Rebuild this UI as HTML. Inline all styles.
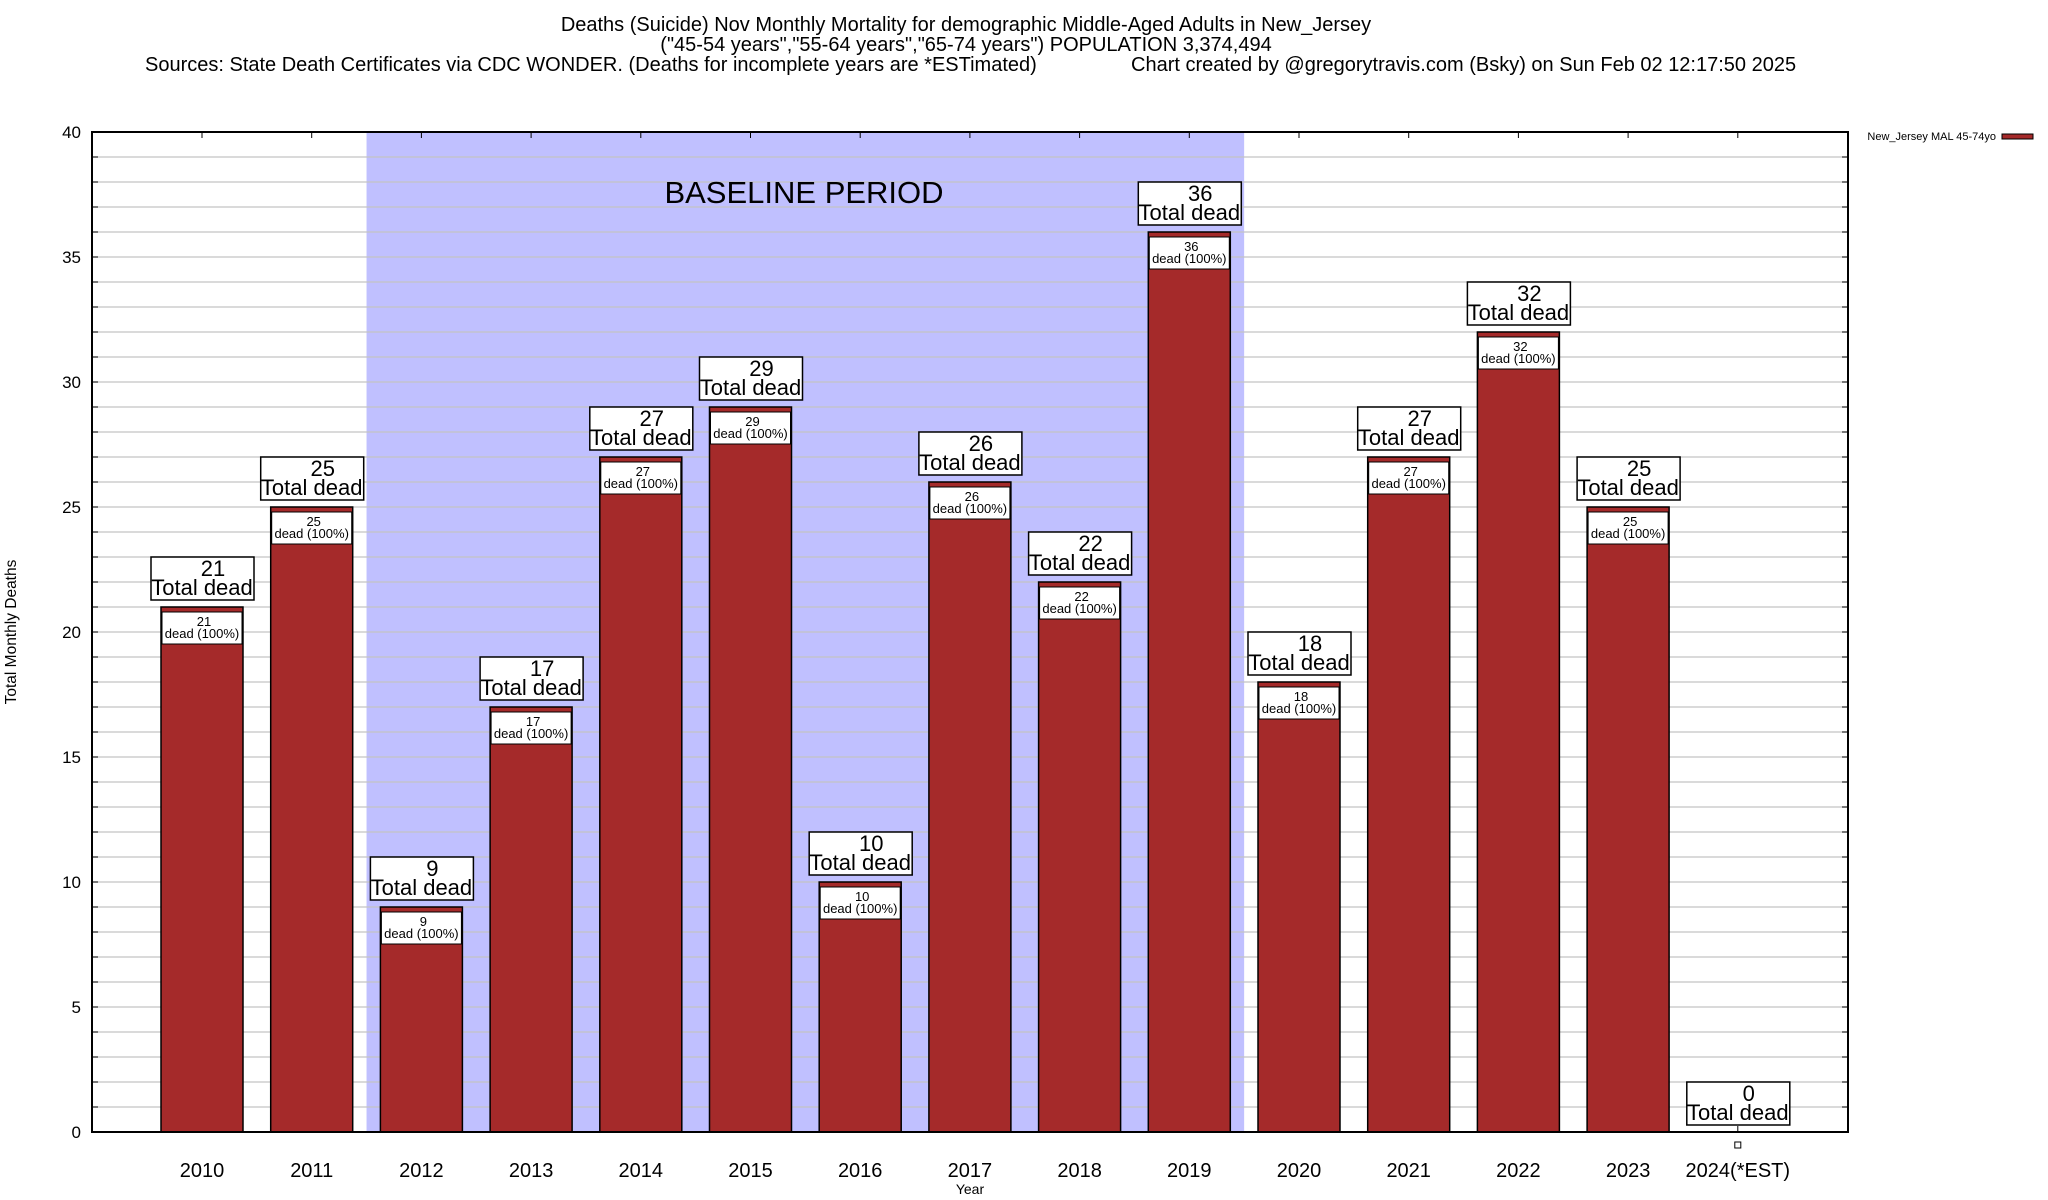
<!DOCTYPE html>
<html><head><meta charset="utf-8"><style>
html,body{margin:0;padding:0;background:#fff;}
svg{display:block;font-family:"Liberation Sans",Arial,sans-serif;}
</style></head><body>
<svg id="chart" width="2048" height="1200" viewBox="0 0 2048 1200">
<g font-size="20" text-anchor="middle">
<text x="966" y="31">Deaths (Suicide) Nov Monthly Mortality for demographic Middle-Aged Adults in New_Jersey</text>
<text x="966" y="51">("45-54 years","55-64 years","65-74 years") POPULATION 3,374,494</text>
<text x="145" y="71" text-anchor="start">Sources: State Death Certificates via CDC WONDER. (Deaths for incomplete years are *ESTimated)</text>
<text x="1131" y="71" text-anchor="start">Chart created by @gregorytravis.com (Bsky) on Sun Feb 02 12:17:50 2025</text>
</g>
<g id="plot"></g>
<text x="16" y="632" font-size="15.5" text-anchor="middle" transform="rotate(-90 16 632)">Total Monthly Deaths</text>
<text x="970" y="1194" font-size="14" text-anchor="middle">Year</text>
<g>
<text x="1996" y="140" font-size="11" text-anchor="end">New_Jersey MAL 45-74yo</text>
<rect x="2002" y="134" width="31" height="5" fill="#a52a2a" stroke="#000" stroke-width="1"/>
</g>
</svg>
<script>
const categories = ["2010","2011","2012","2013","2014","2015","2016","2017","2018","2019","2020","2021","2022","2023","2024(*EST)"];
const values = [21,25,9,17,27,29,10,26,22,36,18,27,32,25,0];
const yTicks = [0,5,10,15,20,25,30,35,40];
const baselineStart = 2, baselineEnd = 9;

const L=92,R=1848,T=132,B=1132,yMax=40;
const step=109.7, x0=202, bw=82;
const xC=i=>x0+i*step;
const yS=v=>B-(v/yMax)*(B-T);
const NS="http://www.w3.org/2000/svg";
const plot=document.getElementById('plot');
function mk(tag,attrs,parent,text){const e=document.createElementNS(NS,tag);for(const k in attrs)e.setAttribute(k,attrs[k]);if(text!==undefined)e.textContent=text;(parent||plot).appendChild(e);return e;}

const shade=mk('rect',{x:xC(baselineStart)-step/2,y:T,width:(baselineEnd-baselineStart+1)*step,height:B-T,fill:'#c0c0ff'});


for(let v=1;v<yMax;v++){
  const g=mk('line',{x1:L,x2:R,y1:yS(v),y2:yS(v),stroke:'#c4c4c4','stroke-width':1.2});
  
  
  mk('line',{x1:L,x2:L+6,y1:yS(v),y2:yS(v),stroke:'#000'});
  mk('line',{x1:R-6,x2:R,y1:yS(v),y2:yS(v),stroke:'#000'});
}
const bt=mk('text',{x:804,y:203,'font-size':31,'text-anchor':'middle'},plot,'BASELINE PERIOD');


yTicks.forEach(v=>{
  const t=mk('text',{x:81,y:yS(v)+6,'font-size':17,'text-anchor':'end'},plot,String(v));
  
  
});
categories.forEach((c,i)=>{
  const v=values[i], cx=xC(i), top=yS(v);
  mk('line',{x1:cx,x2:cx,y1:T,y2:T+6,stroke:'#000'});
  mk('line',{x1:cx,x2:cx,y1:B,y2:B-6,stroke:'#000'});
  if(v>0){
    const r=mk('rect',{x:cx-bw/2,y:top,width:bw,height:B-top,fill:'#a52a2a',stroke:'#000','stroke-width':1.5});
    
    
    mk('rect',{x:cx-bw/2+1,y:top+5,width:bw-2,height:32,fill:'#fff',stroke:'#000','stroke-width':1});
    mk('text',{x:cx+2,y:top+19,'font-size':13,'text-anchor':'middle'},plot,String(v));
    mk('text',{x:cx,y:top+31,'font-size':13,'text-anchor':'middle'},plot,'dead (100%)');
  } else {
    const m=mk('rect',{x:cx-3,y:B+10,width:6,height:6,fill:'#fff',stroke:'#000','stroke-width':1});
    
    
  }
  const lb=mk('rect',{x:cx-51,y:top-50,width:103,height:43,fill:'#fff',stroke:'#000','stroke-width':1.5});
  
  
  mk('text',{x:cx+11,y:top-31,'font-size':22,'text-anchor':'middle'},plot,String(v));
  mk('text',{x:cx,y:top-12,'font-size':22,'text-anchor':'middle'},plot,'Total dead');
  const xl=mk('text',{x:cx,y:1177,'font-size':20,'text-anchor':'middle'},plot,c);
  
  
});
const fr=mk('rect',{x:L,y:T,width:R-L,height:B-T,fill:'none',stroke:'#000','stroke-width':2});


</script>
</body></html>
